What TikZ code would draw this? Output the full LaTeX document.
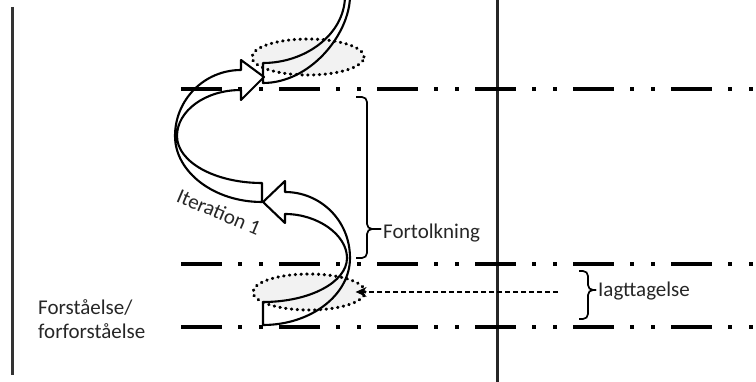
\documentclass[tikz,border=0pt]{standalone}
\usepackage{fontspec}
\setmainfont{Carlito}
\usepackage{tikz}
\usetikzlibrary{arrows.meta,shapes.geometric}
\pgfdeclarelayer{background}
\pgfdeclarelayer{foreground}
\pgfsetlayers{background,main,foreground}

\begin{document}
\begin{tikzpicture}[x=1pt,y=-1pt,
  level/.style={line width=4.8pt,dash pattern=on 41pt off 16pt on 4pt off 17pt on 4pt off 16pt},
  ring/.style={ellipse,draw,fill=gray!10,line width=3.2pt,line cap=round,dash pattern=on 0.4pt off 5.4pt,minimum width=112pt,minimum height=36pt,inner sep=0pt},
  band/.style={line width=2.1pt,line join=round},
  lbl/.style={font=\fontsize{21}{24}\selectfont,text=black!85,inner sep=0pt},
  brace/.style={line width=1.7pt,rounded corners=5pt}]
\useasboundingbox (0,0) rectangle (756,382);
\begin{pgfonlayer}{background}
\draw[line width=2.2pt,black!80] (12.5,7) -- (12.5,375);
\draw[line width=2.2pt,black!85] (497.5,0) -- (497.5,382);
\foreach \y in {89,264,327}
  \draw[level] (181,\y) -- (760,\y);
\node[ring] (topring) at (308,57) {};
\node[ring] (lowring) at (309,292) {};
\end{pgfonlayer}
% spiral, bottom piece first
\draw[band] (263,302) .. controls (310,302) and (347,282) .. (347,258) .. controls (347,235) and (318,214) .. (285,214) -- (285,223) -- (263,202) -- (285,181) -- (285,192) .. controls (320,192) and (350,220) .. (350,258) .. controls (350,295) and (311,325) .. (263,325) -- cycle;
\draw[band] (262,183) .. controls (215,183) and (177,162) .. (177,136) .. controls (177,111) and (205,90) .. (241,90) -- (241,100) -- (264,77) -- (241,60) -- (241,70) .. controls (204,70) and (175,100) .. (175,136) .. controls (175,172) and (214,202) .. (262,202) -- cycle;
\draw[band] (345,-3) .. controls (344,35) and (305,63) .. (263,63) -- (263,83) .. controls (310,83) and (349,35) .. (350,-3);
\node[lbl,rotate=-23] (iter) at (219,212) {Iteration 1};
% braces and labels
\draw[brace] (356,97) -- (367,97) -- (367,229) -- (381,229);
\draw[brace] (381,229) -- (367,229) -- (367,258) -- (356,258);
\node[lbl,anchor=base west] (fortolk) at (383,238.5) {Fortolkning};
\draw[brace] (579,271) -- (588,271) -- (588,290) -- (596,290);
\draw[brace] (596,290) -- (588,290) -- (588,319) -- (579,319);
\node[lbl,anchor=base west] (iagt) at (598,297) {Iagttagelse};
\coordinate (obs) at (558,292);
\draw[line width=1.3pt,dash pattern=on 5pt off 3pt,-{Stealth[length=11pt,width=10pt]}] (obs) -- ([xshift=-11pt]lowring.east);
\node[lbl,align=left,anchor=west] (forst) at (38,319) {Forståelse/\\forforståelse};
\end{tikzpicture}
\end{document}
